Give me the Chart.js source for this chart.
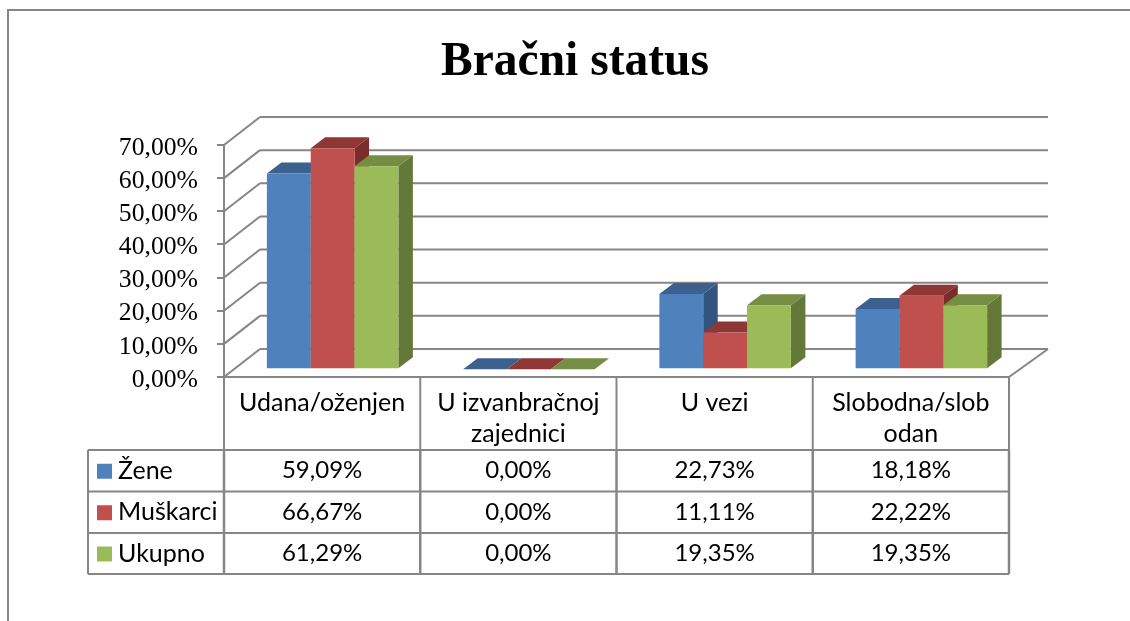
<!DOCTYPE html>
<html>
<head>
<meta charset="utf-8">
<style>
  html, body { margin: 0; padding: 0; background: #fff; }
  canvas { display: block; }
</style>
<script src="https://cdn.jsdelivr.net/npm/chart.js@4"></script>
</head>
<body>
<canvas id="myChart" width="1130" height="621"></canvas>
<script>
const categories = ["Udana/oženjen", ["U izvanbračnoj", "zajednici"], "U vezi", ["Slobodna/slob", "odan"]];
const zene = [59.09, 0, 22.73, 18.18];
const muskarci = [66.67, 0, 11.11, 22.22];
const ukupno = [61.29, 0, 19.35, 19.35];
const seriesNames = ["Žene", "Muškarci", "Ukupno"];

const frontColors = ["#4f81bd", "#c0504d", "#9bbb59"];
const topColors = ["#3c618f", "#8e3735", "#768e43"];
const sideColors = ["#32557f", "#7a2d2b", "#64783a"];
const lineColor = "#868686";

function percent(value) {
  return value.toFixed(2).replace(".", ",") + "%";
}

function line(ctx, x1, y1, x2, y2) {
  ctx.beginPath();
  ctx.moveTo(x1, y1);
  ctx.lineTo(x2, y2);
  ctx.stroke();
}

function poly(ctx, color, pts) {
  ctx.fillStyle = color;
  ctx.beginPath();
  ctx.moveTo(pts[0][0], pts[0][1]);
  for (let i = 1; i < pts.length; i++) ctx.lineTo(pts[i][0], pts[i][1]);
  ctx.closePath();
  ctx.fill();
}

// fake 3D: back wall and floor behind the bars
const wallX = 36;
const wallY = -28;
// bars stand a bit inside the floor
const barShiftX = 10.5;
const barShiftY = -7.7;
const barDepthX = 14.5;
const barDepthY = -11;

const wallPlugin = {
  id: "wall",
  beforeDraw(chart) {
    const ctx = chart.ctx;
    ctx.save();
    ctx.strokeStyle = lineColor;
    ctx.lineWidth = 2;
    // outer frame, only top and left are in the picture
    line(ctx, 8, 10, 1130, 10);
    line(ctx, 8, 9, 8, 621);
    ctx.restore();
  },
  beforeDatasetsDraw(chart) {
    const ctx = chart.ctx;
    const y = chart.scales.y;
    const area = chart.chartArea;
    ctx.save();
    ctx.strokeStyle = lineColor;
    ctx.lineWidth = 2;
    y.ticks.forEach(function (tick) {
      const py = y.getPixelForValue(tick.value);
      line(ctx, area.left, py, area.left + wallX, py + wallY);
      line(ctx, area.left + wallX, py + wallY, area.right + 39, py + wallY);
    });
    const py0 = y.getPixelForValue(0);
    line(ctx, area.right, py0, area.right + 39, py0 + wallY);
    ctx.restore();
  },
};

const bars3dPlugin = {
  id: "bars3d",
  // left bar has to go first, the library paints it last
  beforeDatasetDraw() {
    return false;
  },
  afterDatasetsDraw(chart) {
    const ctx = chart.ctx;
    ctx.save();
    ctx.translate(barShiftX, barShiftY);
    for (let d = 0; d < chart.data.datasets.length; d++) {
      const meta = chart.getDatasetMeta(d);
      meta.data.forEach(function (bar) {
        const left = bar.x - bar.width / 2;
        const right = bar.x + bar.width / 2;
        poly(ctx, topColors[d], [
          [left, bar.y],
          [left + barDepthX, bar.y + barDepthY],
          [right + barDepthX, bar.y + barDepthY],
          [right, bar.y],
        ]);
        poly(ctx, sideColors[d], [
          [right, bar.y],
          [right + barDepthX, bar.y + barDepthY],
          [right + barDepthX, bar.base + barDepthY],
          [right, bar.base],
        ]);
      });
      meta.controller.draw();
    }
    ctx.restore();
  },
};

const tablePlugin = {
  id: "dataTable",
  afterDraw(chart) {
    const ctx = chart.ctx;
    const x = chart.scales.x;
    const area = chart.chartArea;
    const rowTops = [450, 491.5, 533, 574];
    const legendLeft = 88;
    const rows = [zene, muskarci, ukupno];

    ctx.save();
    ctx.strokeStyle = lineColor;
    ctx.lineWidth = 2;
    rowTops.forEach(function (py) {
      line(ctx, legendLeft, py, area.right, py);
    });
    line(ctx, legendLeft, rowTops[0], legendLeft, rowTops[3]);
    for (let i = 0; i <= categories.length; i++) {
      const px = area.left + (i * (area.right - area.left)) / categories.length;
      ctx.lineWidth = 2;
      line(ctx, px, area.bottom, px, rowTops[0]);
      // the cell lines are heavier in the value rows
      ctx.lineWidth = 2.5;
      line(ctx, px, rowTops[0], px, rowTops[3]);
    }

    ctx.fillStyle = "#000";
    ctx.textBaseline = "middle";
    rows.forEach(function (values, r) {
      const cy = (rowTops[r] + rowTops[r + 1]) / 2;
      ctx.fillStyle = frontColors[r];
      ctx.fillRect(97, cy - 7, 15, 15);
      ctx.fillStyle = "#000";
      ctx.font = "25px Lato";
      ctx.textAlign = "left";
      ctx.fillText(seriesNames[r], 118, cy);
      ctx.font = "24px Lato";
      ctx.textAlign = "center";
      values.forEach(function (v, c) {
        ctx.fillText(percent(v), x.getPixelForValue(c), cy);
      });
    });
    ctx.restore();
  },
};

new Chart(document.getElementById("myChart"), {
  type: "bar",
  data: {
    labels: categories,
    datasets: [
      { label: seriesNames[0], data: zene, backgroundColor: frontColors[0] },
      { label: seriesNames[1], data: muskarci, backgroundColor: frontColors[1] },
      { label: seriesNames[2], data: ukupno, backgroundColor: frontColors[2] },
    ],
  },
  options: {
    responsive: false,
    animation: false,
    categoryPercentage: 0.67,
    barPercentage: 1,
    layout: { padding: { left: 20, right: 0, top: 0, bottom: 0 } },
    plugins: {
      legend: { display: false },
      tooltip: { enabled: false },
      title: {
        display: true,
        text: "Bračni status",
        color: "#000",
        font: { family: "Liberation Serif", size: 47.5, weight: "bold", lineHeight: 1.2 },
        padding: { top: 34, bottom: 54 },
      },
    },
    scales: {
      x: {
        afterFit(scale) {
          scale.height = 244;
        },
        grid: { display: false },
        border: { color: lineColor, width: 2 },
        ticks: {
          color: "#000",
          font: { family: "Lato", size: 25, lineHeight: 1.25 },
          padding: 2,
          maxRotation: 0,
          autoSkip: false,
        },
      },
      y: {
        min: 0,
        max: 70,
        afterFit(scale) {
          scale.width = 204;
        },
        grid: {
          drawOnChartArea: false,
          drawTicks: true,
          tickLength: 7,
          color: lineColor,
          lineWidth: 2,
        },
        border: { color: lineColor, width: 2 },
        ticks: {
          stepSize: 10,
          autoSkip: false,
          color: "#000",
          padding: 19,
          labelOffset: 3,
          font: { family: "Liberation Serif", size: 25.7 },
          callback: function (value) {
            return percent(value);
          },
        },
      },
      // empty axis, only holds the room right of the plot so the title stays centred on the page side
      spacer: {
        position: "right",
        afterFit(scale) {
          scale.width = 121;
        },
        grid: { display: false },
        border: { display: false },
        ticks: { display: false },
      },
    },
  },
  plugins: [wallPlugin, bars3dPlugin, tablePlugin],
});
</script>
</body>
</html>
